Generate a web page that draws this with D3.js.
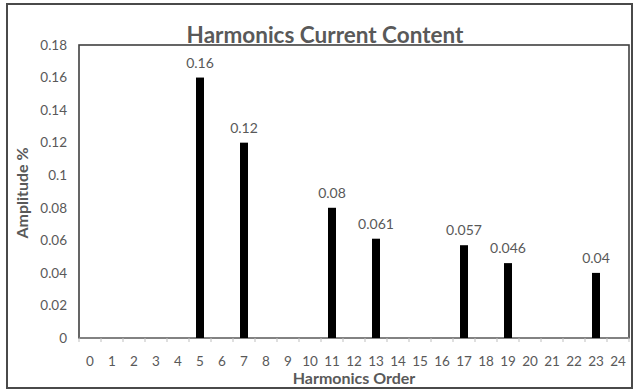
<!DOCTYPE html>
<html><head><meta charset="utf-8">
<script src="https://cdn.jsdelivr.net/npm/d3@7"></script>
<style>body{margin:0;background:#fff}svg{display:block}</style>
</head><body>
<script>
const categories = d3.range(0, 25).map(String);
const harmonicOrders = ["5", "7", "11", "13", "17", "19", "23"];
const amplitudes = [0.16, 0.12, 0.08, 0.061, 0.057, 0.046, 0.04];
const amplitudeLabels = ["0.16", "0.12", "0.08", "0.061", "0.057", "0.046", "0.04"];
const yTicks = [0, 0.02, 0.04, 0.06, 0.08, 0.1, 0.12, 0.14, 0.16, 0.18];

(function () {
const W = 636, H = 392;
const font = "Lato, 'Open Sans', sans-serif";
const grey = "#595959";
const svg = d3.select("body").append("svg").attr("width", W).attr("height", H);

svg.append("rect").attr("x", 7).attr("y", 4).attr("width", 625).attr("height", 384)
  .attr("fill", "#fff").attr("stroke", "#4a4a4a").attr("stroke-width", 2);

const pl = 79, pr = 629, pt = 45, pb = 338;
const x = d3.scaleBand().domain(categories).range([pl, pr]).padding(0);
const y = d3.scaleLinear().domain([0, 0.18]).range([pb, pt]);

svg.append("rect").attr("x", pl).attr("y", pt).attr("width", pr - pl).attr("height", pb - pt)
  .attr("fill", "none").attr("stroke", "#404040").attr("stroke-width", 1.6);

svg.append("g").selectAll("text").data(yTicks).join("text")
  .attr("x", 67).attr("y", d => y(d)).attr("dy", "0.35em").attr("text-anchor", "end")
  .attr("font-family", font).attr("font-size", 13.5).attr("fill", grey)
  .text(d => String(+d.toFixed(2)));

svg.append("line").attr("x1", pl).attr("x2", pr).attr("y1", pb).attr("y2", pb)
  .attr("stroke", "#8c8c8c").attr("stroke-width", 1.5);
svg.append("g").selectAll("line").data(categories.concat(["end"])).join("line")
  .attr("x1", (d, i) => i < categories.length ? x(d) : pr)
  .attr("x2", (d, i) => i < categories.length ? x(d) : pr)
  .attr("y1", pb).attr("y2", pb + 4).attr("stroke", "#bfbfbf").attr("stroke-width", 1);

svg.append("g").selectAll("text").data(categories).join("text")
  .attr("x", d => x(d) + x.bandwidth() / 2).attr("y", 361).attr("dy", "0.35em").attr("text-anchor", "middle")
  .attr("font-family", font).attr("font-size", 13.5).attr("fill", grey).text(d => d);

const bw = 8;
const data = harmonicOrders.map((h, i) => ({h, v: amplitudes[i], l: amplitudeLabels[i]}));
svg.append("g").selectAll("rect").data(data).join("rect")
  .attr("x", d => x(d.h) + x.bandwidth() / 2 - bw / 2).attr("width", bw)
  .attr("y", d => y(d.v)).attr("height", d => y(0) - y(d.v)).attr("fill", "#000");

svg.append("g").selectAll("text").data(data).join("text")
  .attr("x", d => x(d.h) + x.bandwidth() / 2).attr("y", d => y(d.v) - 10).attr("text-anchor", "middle")
  .attr("font-family", font).attr("font-size", 14).attr("fill", grey).text(d => d.l);

svg.append("text").attr("x", 325).attr("y", 43).attr("text-anchor", "middle")
  .attr("font-family", font).attr("font-size", 22.5).attr("font-weight", "bold").attr("fill", grey)
  .text("Harmonics Current Content");
svg.append("text").attr("x", 354).attr("y", 384).attr("text-anchor", "middle")
  .attr("font-family", font).attr("font-size", 16).attr("font-weight", "bold").attr("fill", grey)
  .text("Harmonics Order");
svg.append("text").attr("transform", "translate(28," + 193 + ") rotate(-90)")
  .attr("text-anchor", "middle")
  .attr("font-family", font).attr("font-size", 16).attr("font-weight", "bold").attr("fill", grey)
  .text("Amplitude %");
})();
</script>
</body></html>
